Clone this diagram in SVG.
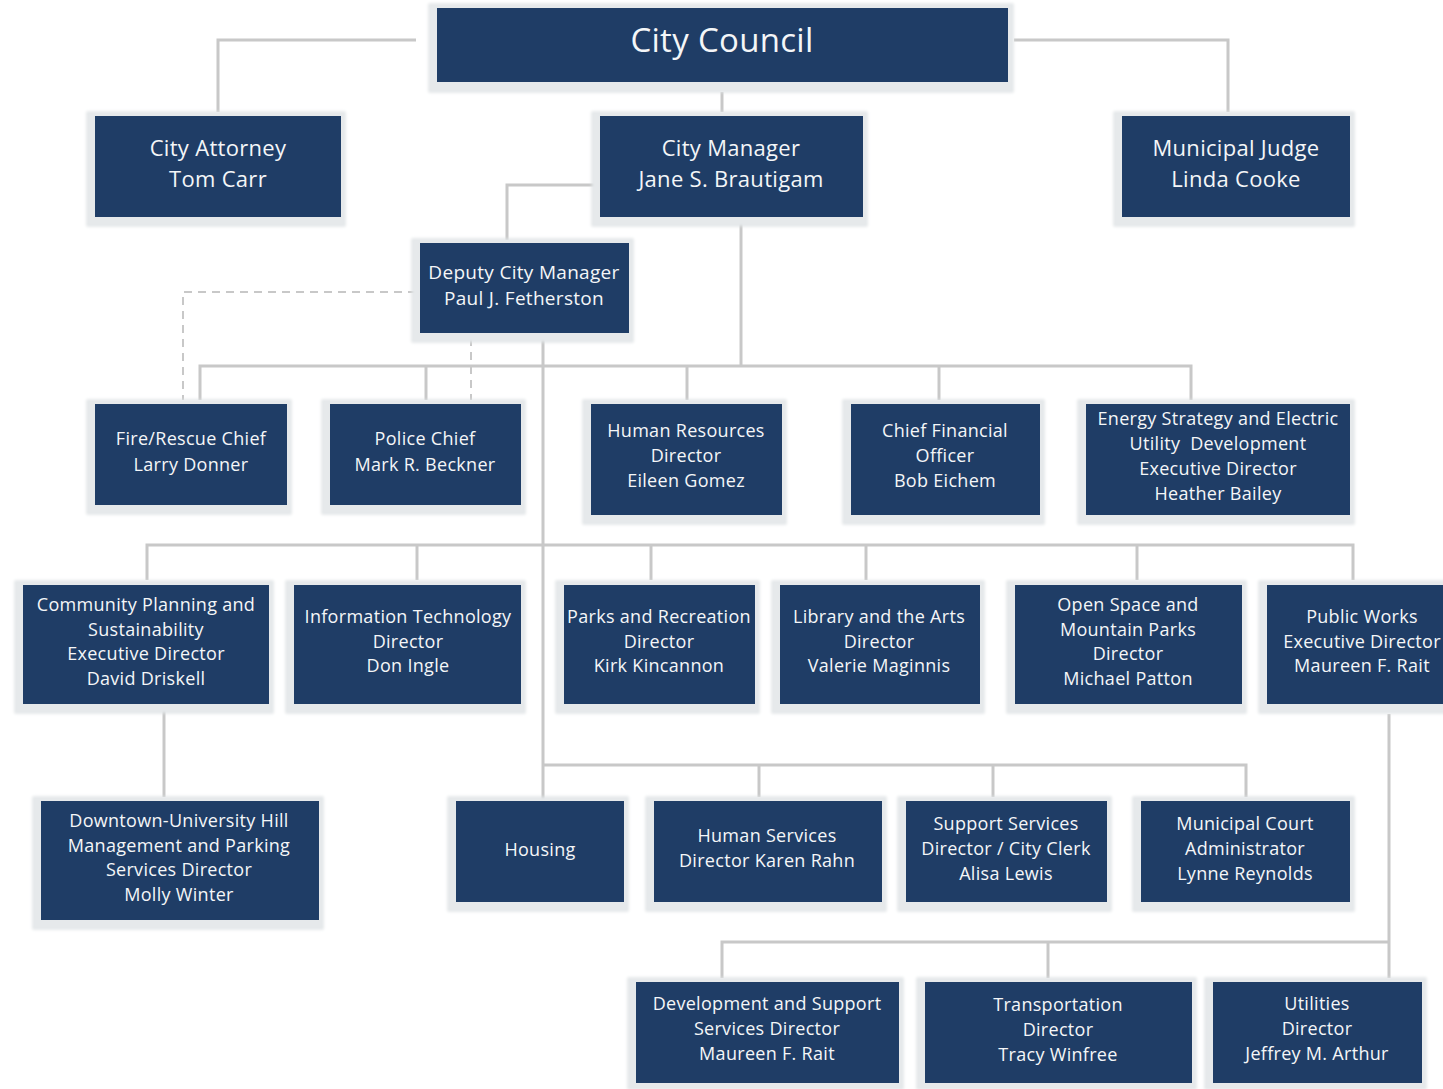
<svg xmlns="http://www.w3.org/2000/svg" width="1443" height="1089" viewBox="0 0 1443 1089">
  <defs>
    <filter id="soft" x="-5%" y="-5%" width="110%" height="120%">
      <feGaussianBlur stdDeviation="1.5"/>
    </filter>
  </defs>
  <style>
    .frame { fill: #e6e9eb; stroke: #d9dde0; stroke-width: 1; filter: url(#soft); }
    .box { fill: #1f3d66; }
    .lbl { fill: #f4f6f8; font-family: "Open Sans", "DejaVu Sans", sans-serif; font-size: 18px; text-anchor: middle; letter-spacing: 0.3px; }
    .big { font-size: 22px; }
    .title { font-size: 33px; }
    .wire { fill: none; stroke: #c8c8c8; stroke-width: 3; }
    .dash { fill: none; stroke: #c8c8c8; stroke-width: 2; stroke-dasharray: 8 6; }
  </style>
  <rect width="1443" height="1089" fill="#ffffff"/>

  <!-- connectors -->
  <g id="connectors">
    <path class="wire" d="M416 40 H218 V112"/>
    <path class="wire" d="M1014 40 H1228 V112"/>
    <path class="wire" d="M722 92 V112"/>
    <path class="wire" d="M598 185 H507 V240"/>
    <path class="wire" d="M741 220 V366"/>
    <path class="wire" d="M200 400 V366 H1191 V400"/>
    <path class="wire" d="M426 366 V400"/>
    <path class="wire" d="M687 366 V400"/>
    <path class="wire" d="M939 366 V400"/>
    <path class="wire" d="M543 336 V800"/>
    <path class="wire" d="M147 580 V545 H1353 V580"/>
    <path class="wire" d="M417 545 V580"/>
    <path class="wire" d="M651 545 V580"/>
    <path class="wire" d="M866 545 V580"/>
    <path class="wire" d="M1137 545 V580"/>
    <path class="wire" d="M164 706 V797"/>
    <path class="wire" d="M543 765 H1246 V797"/>
    <path class="wire" d="M759 765 V797"/>
    <path class="wire" d="M993 765 V797"/>
    <path class="wire" d="M1389 714 V978"/>
    <path class="wire" d="M722 978 V942 H1389"/>
    <path class="wire" d="M1048 942 V978"/>
    <path class="dash" d="M416 292 H183 V400"/>
    <path class="dash" d="M471 338 V400"/>
  </g>

  <g id="city-council">
    <rect class="frame" x="429" y="4" width="584" height="88"/>
    <rect class="box" x="437" y="8" width="571" height="74"/>
    <text class="lbl title" x="722" y="52">City Council</text>
  </g>

  <g id="city-attorney">
    <rect class="frame" x="87" y="112" width="258" height="114"/>
    <rect class="box" x="95" y="116" width="246" height="101"/>
    <text class="lbl big" x="218"><tspan x="218" y="156">City Attorney</tspan><tspan x="218" y="187">Tom Carr</tspan></text>
  </g>

  <g id="city-manager">
    <rect class="frame" x="592" y="112" width="275" height="114"/>
    <rect class="box" x="600" y="116" width="263" height="101"/>
    <text class="lbl big" x="731"><tspan x="731" y="156">City Manager</tspan><tspan x="731" y="187">Jane S. Brautigam</tspan></text>
  </g>

  <g id="municipal-judge">
    <rect class="frame" x="1114" y="112" width="240" height="114"/>
    <rect class="box" x="1122" y="116" width="228" height="101"/>
    <text class="lbl big" x="1236"><tspan x="1236" y="156">Municipal Judge</tspan><tspan x="1236" y="187">Linda Cooke</tspan></text>
  </g>

  <g id="deputy-city-manager">
    <rect class="frame" x="412" y="239" width="221" height="103"/>
    <rect class="box" x="420" y="243" width="209" height="90"/>
    <text class="lbl" x="524" style="font-size:19px"><tspan x="524" y="279">Deputy City Manager</tspan><tspan x="524" y="305">Paul J. Fetherston</tspan></text>
  </g>

  <g id="fire-rescue">
    <rect class="frame" x="87" y="400" width="204" height="114"/>
    <rect class="box" x="95" y="404" width="192" height="101"/>
    <text class="lbl" x="191"><tspan x="191" y="445">Fire/Rescue Chief</tspan><tspan x="191" y="471">Larry Donner</tspan></text>
  </g>

  <g id="police">
    <rect class="frame" x="322" y="400" width="203" height="114"/>
    <rect class="box" x="330" y="404" width="191" height="101"/>
    <text class="lbl" x="425"><tspan x="425" y="445">Police Chief</tspan><tspan x="425" y="471">Mark R. Beckner</tspan></text>
  </g>

  <g id="human-resources">
    <rect class="frame" x="583" y="400" width="203" height="124"/>
    <rect class="box" x="591" y="404" width="191" height="111"/>
    <text class="lbl" x="686"><tspan x="686" y="437">Human Resources</tspan><tspan x="686" y="462">Director</tspan><tspan x="686" y="487">Eileen Gomez</tspan></text>
  </g>

  <g id="cfo">
    <rect class="frame" x="843" y="400" width="201" height="124"/>
    <rect class="box" x="851" y="404" width="189" height="111"/>
    <text class="lbl" x="945"><tspan x="945" y="437">Chief Financial</tspan><tspan x="945" y="462">Officer</tspan><tspan x="945" y="487">Bob Eichem</tspan></text>
  </g>

  <g id="energy-strategy">
    <rect class="frame" x="1078" y="400" width="276" height="124"/>
    <rect class="box" x="1086" y="404" width="264" height="111"/>
    <text class="lbl" x="1218" xml:space="preserve"><tspan x="1218" y="425">Energy Strategy and Electric</tspan><tspan x="1218" y="450">Utility  Development</tspan><tspan x="1218" y="475">Executive Director</tspan><tspan x="1218" y="500">Heather Bailey</tspan></text>
  </g>

  <g id="community-planning">
    <rect class="frame" x="15" y="581" width="258" height="132"/>
    <rect class="box" x="23" y="585" width="246" height="119"/>
    <text class="lbl" x="146"><tspan x="146" y="611">Community Planning and</tspan><tspan x="146" y="636">Sustainability</tspan><tspan x="146" y="660">Executive Director</tspan><tspan x="146" y="685">David Driskell</tspan></text>
  </g>

  <g id="information-technology">
    <rect class="frame" x="286" y="581" width="239" height="132"/>
    <rect class="box" x="294" y="585" width="227" height="119"/>
    <text class="lbl" x="408"><tspan x="408" y="623">Information Technology</tspan><tspan x="408" y="648">Director</tspan><tspan x="408" y="672">Don Ingle</tspan></text>
  </g>

  <g id="parks-recreation">
    <rect class="frame" x="556" y="581" width="203" height="132"/>
    <rect class="box" x="564" y="585" width="191" height="119"/>
    <text class="lbl" x="659"><tspan x="659" y="623">Parks and Recreation</tspan><tspan x="659" y="648">Director</tspan><tspan x="659" y="672">Kirk Kincannon</tspan></text>
  </g>

  <g id="library-arts">
    <rect class="frame" x="772" y="581" width="212" height="132"/>
    <rect class="box" x="780" y="585" width="200" height="119"/>
    <text class="lbl" x="879"><tspan x="879" y="623">Library and the Arts</tspan><tspan x="879" y="648">Director</tspan><tspan x="879" y="672">Valerie Maginnis</tspan></text>
  </g>

  <g id="open-space">
    <rect class="frame" x="1007" y="581" width="239" height="132"/>
    <rect class="box" x="1015" y="585" width="227" height="119"/>
    <text class="lbl" x="1128"><tspan x="1128" y="611">Open Space and</tspan><tspan x="1128" y="636">Mountain Parks</tspan><tspan x="1128" y="660">Director</tspan><tspan x="1128" y="685">Michael Patton</tspan></text>
  </g>

  <g id="public-works">
    <rect class="frame" x="1259" y="581" width="190" height="132"/>
    <rect class="box" x="1267" y="585" width="180" height="119"/>
    <text class="lbl" x="1362"><tspan x="1362" y="623">Public Works</tspan><tspan x="1362" y="648">Executive Director</tspan><tspan x="1362" y="672">Maureen F. Rait</tspan></text>
  </g>

  <g id="downtown-university-hill">
    <rect class="frame" x="33" y="797" width="290" height="132"/>
    <rect class="box" x="41" y="801" width="278" height="119"/>
    <text class="lbl" x="179"><tspan x="179" y="827">Downtown-University Hill</tspan><tspan x="179" y="852">Management and Parking</tspan><tspan x="179" y="876">Services Director</tspan><tspan x="179" y="901">Molly Winter</tspan></text>
  </g>

  <g id="housing">
    <rect class="frame" x="448" y="797" width="180" height="114"/>
    <rect class="box" x="456" y="801" width="168" height="101"/>
    <text class="lbl" x="540" y="856">Housing</text>
  </g>

  <g id="human-services">
    <rect class="frame" x="646" y="797" width="240" height="114"/>
    <rect class="box" x="654" y="801" width="228" height="101"/>
    <text class="lbl" x="767"><tspan x="767" y="842">Human Services</tspan><tspan x="767" y="867">Director Karen Rahn</tspan></text>
  </g>

  <g id="support-services">
    <rect class="frame" x="898" y="797" width="213" height="114"/>
    <rect class="box" x="906" y="801" width="201" height="101"/>
    <text class="lbl" x="1006"><tspan x="1006" y="830">Support Services</tspan><tspan x="1006" y="855">Director / City Clerk</tspan><tspan x="1006" y="880">Alisa Lewis</tspan></text>
  </g>

  <g id="municipal-court">
    <rect class="frame" x="1133" y="797" width="221" height="114"/>
    <rect class="box" x="1141" y="801" width="209" height="101"/>
    <text class="lbl" x="1245"><tspan x="1245" y="830">Municipal Court</tspan><tspan x="1245" y="855">Administrator</tspan><tspan x="1245" y="880">Lynne Reynolds</tspan></text>
  </g>

  <g id="development-support">
    <rect class="frame" x="628" y="978" width="275" height="111"/>
    <rect class="box" x="636" y="982" width="263" height="101"/>
    <text class="lbl" x="767"><tspan x="767" y="1010">Development and Support</tspan><tspan x="767" y="1035">Services Director</tspan><tspan x="767" y="1060">Maureen F. Rait</tspan></text>
  </g>

  <g id="transportation">
    <rect class="frame" x="917" y="978" width="279" height="111"/>
    <rect class="box" x="925" y="982" width="267" height="101"/>
    <text class="lbl" x="1058"><tspan x="1058" y="1011">Transportation</tspan><tspan x="1058" y="1036">Director</tspan><tspan x="1058" y="1061">Tracy Winfree</tspan></text>
  </g>

  <g id="utilities">
    <rect class="frame" x="1205" y="978" width="221" height="111"/>
    <rect class="box" x="1213" y="982" width="209" height="101"/>
    <text class="lbl" x="1317"><tspan x="1317" y="1010">Utilities</tspan><tspan x="1317" y="1035">Director</tspan><tspan x="1317" y="1060">Jeffrey M. Arthur</tspan></text>
  </g>
</svg>
